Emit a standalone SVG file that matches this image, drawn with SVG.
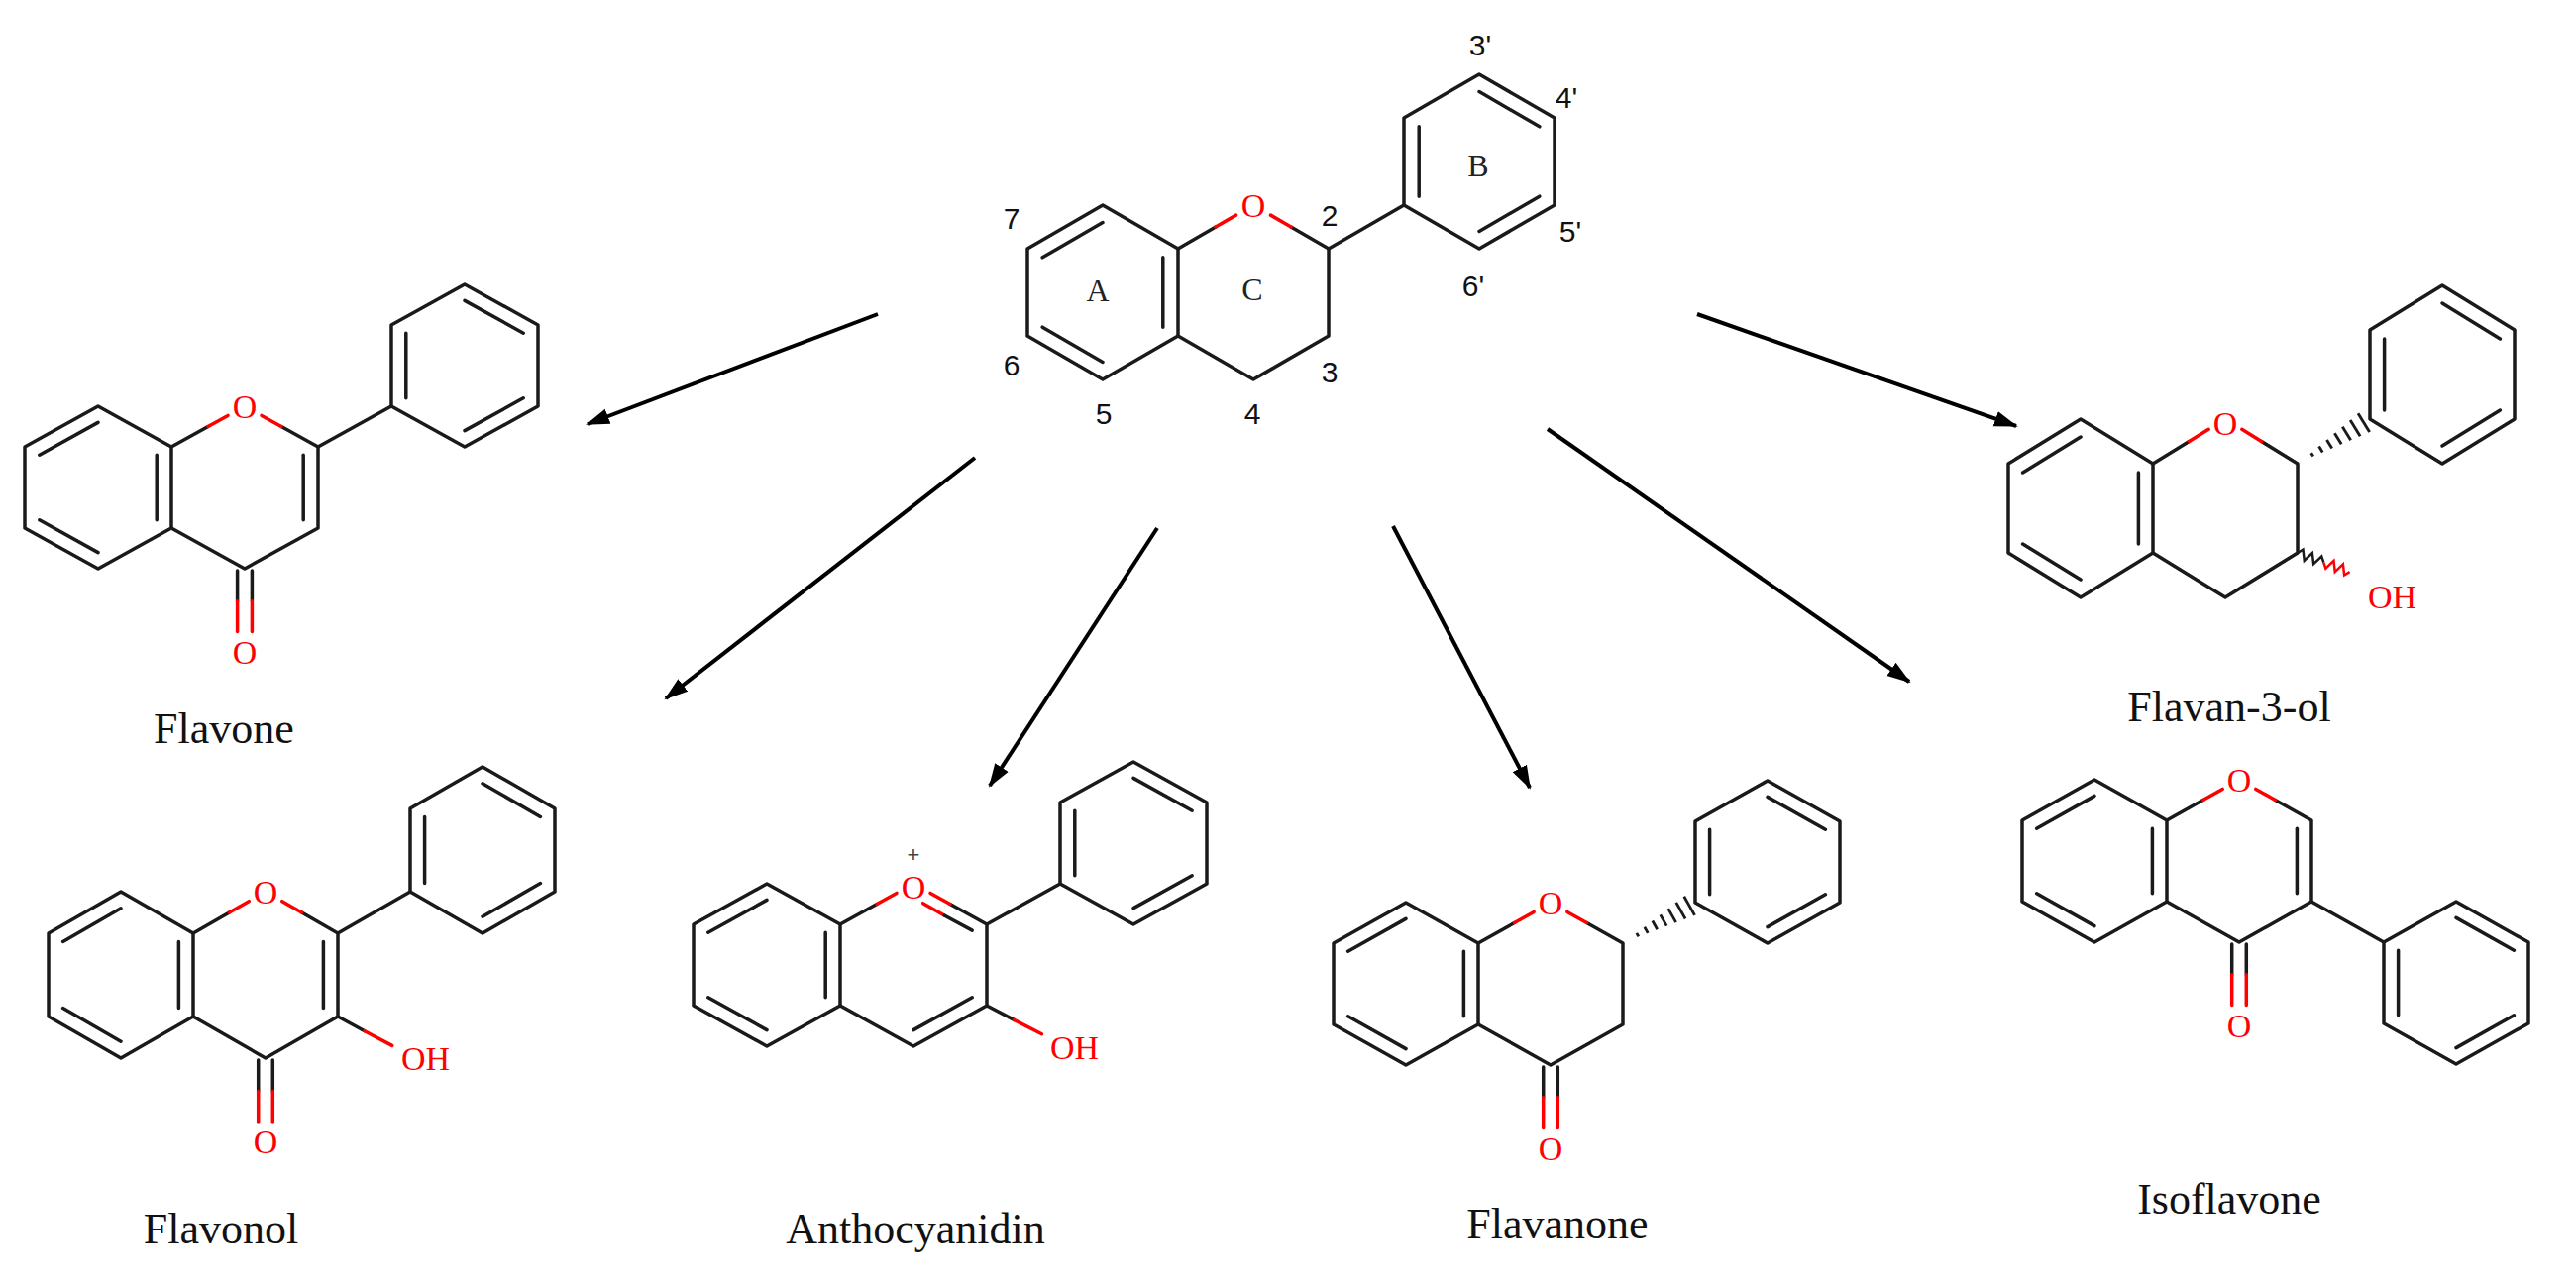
<svg xmlns="http://www.w3.org/2000/svg" width="2600" height="1296" viewBox="0 0 2600 1296">
<style>
.b{stroke:#1a1a1a;stroke-width:3.5;fill:none;vector-effect:non-scaling-stroke;stroke-linecap:round;stroke-linejoin:round}
.r{stroke:#ff0000;stroke-width:3.5;fill:none;vector-effect:non-scaling-stroke;stroke-linecap:round}
.ol{font-family:"Liberation Serif",serif;font-size:34px;fill:#ff0000;text-anchor:middle;dominant-baseline:central}
.oh{font-family:"Liberation Serif",serif;font-size:34px;fill:#ff0000}
.cap{font-family:"Liberation Serif",serif;font-size:44px;fill:#111;text-anchor:middle;dominant-baseline:central}
.num{font-family:"Liberation Sans",sans-serif;font-size:30px;fill:#111;text-anchor:middle;dominant-baseline:central}
.rl{font-family:"Liberation Serif",serif;font-size:32px;fill:#222;text-anchor:middle;dominant-baseline:central}
.arr{stroke:#000;stroke-width:4;fill:none}
.h{stroke:#1a1a1a;stroke-width:2.8}
</style>
<defs>
<marker id="ah" markerUnits="userSpaceOnUse" markerWidth="26" markerHeight="18" refX="22" refY="9" orient="auto">
<path d="M0,1 L24,9 L0,17 Z" fill="#000"/>
</marker>
<g id="hash">
<line class="h" x1="17" y1="-2" x2="17" y2="2"/>
<line class="h" x1="27" y1="-3.5" x2="27" y2="3.5"/>
<line class="h" x1="37" y1="-5" x2="37" y2="5"/>
<line class="h" x1="47" y1="-6.5" x2="47" y2="6.5"/>
<line class="h" x1="57" y1="-8" x2="57" y2="8"/>
<line class="h" x1="67" y1="-9.5" x2="67" y2="9.5"/>
<line class="h" x1="77" y1="-11" x2="77" y2="11"/>
</g>
</defs>

<g id="connectors">
<line class="arr" x1="886" y1="317" x2="593" y2="428" marker-end="url(#ah)"/>
<line class="arr" x1="984" y1="462" x2="672" y2="705" marker-end="url(#ah)"/>
<line class="arr" x1="1168" y1="533" x2="999" y2="793" marker-end="url(#ah)"/>
<line class="arr" x1="1406" y1="531" x2="1544" y2="795" marker-end="url(#ah)"/>
<line class="arr" x1="1562" y1="433" x2="1927" y2="688" marker-end="url(#ah)"/>
<line class="arr" x1="1713" y1="317" x2="2035" y2="430" marker-end="url(#ah)"/>
</g>

<g id="flavan">
<g transform="translate(1265,295) scale(76,44)">
<polygon class="b" points="-2,-2 -1,-1 -1,1 -2,2 -3,1 -3,-1"/>
<path class="b" d="M-2,-1.6 L-2.8,-0.8 M-2.8,0.8 L-2,1.6 M-1.2,-0.8 L-1.2,0.8"/>
<path class="b" d="M-1,-1 L-0.5,-1.5 M0.5,-1.5 L1,-1 L1,1 L0,2 L-1,1"/>
<path class="r" d="M-0.5,-1.5 L-0.23,-1.77 M0.23,-1.77 L0.5,-1.5"/>
<path class="b" d="M1,-1 L2,-2"/>
<polygon class="b" points="3,-5 4,-4 4,-2 3,-1 2,-2 2,-4"/>
<path class="b" d="M2.2,-3.8 L2.2,-2.2 M3,-4.6 L3.8,-3.8 M3.8,-2.2 L3,-1.4"/>
</g>
<text class="ol" x="1265" y="207">O</text>
<text class="num" x="1021" y="220">7</text>
<text class="num" x="1021" y="368">6</text>
<text class="num" x="1114" y="417">5</text>
<text class="num" x="1264" y="417">4</text>
<text class="num" x="1342" y="375">3</text>
<text class="num" x="1342" y="217">2</text>
<text class="rl" x="1108" y="293">A</text>
<text class="rl" x="1264" y="292">C</text>
<text class="rl" x="1492" y="167">B</text>
<text class="num" x="1494" y="45">3'</text>
<text class="num" x="1581" y="98">4'</text>
<text class="num" x="1585" y="233">5'</text>
<text class="num" x="1487" y="288">6'</text>
</g>

<g id="flavone">
<g transform="translate(247,492) scale(74,41)">
<polygon class="b" points="-2,-2 -1,-1 -1,1 -2,2 -3,1 -3,-1"/>
<path class="b" d="M-2,-1.6 L-2.8,-0.8 M-2.8,0.8 L-2,1.6 M-1.2,-0.8 L-1.2,0.8"/>
<path class="b" d="M-1,-1 L-0.5,-1.5 M0.5,-1.5 L1,-1 L1,1 L0,2 L-1,1"/>
<path class="r" d="M-0.5,-1.5 L-0.23,-1.77 M0.23,-1.77 L0.5,-1.5"/>
<path class="b" d="M0.8,-0.8 L0.8,0.8"/>
<path class="b" d="M-0.1,2.05 L-0.1,2.8 M0.1,2.05 L0.1,2.8"/>
<path class="r" d="M-0.1,2.8 L-0.1,3.55 M0.1,2.8 L0.1,3.55"/>
<path class="b" d="M1,-1 L2,-2"/>
<polygon class="b" points="3,-5 4,-4 4,-2 3,-1 2,-2 2,-4"/>
<path class="b" d="M2.2,-3.8 L2.2,-2.2 M3,-4.6 L3.8,-3.8 M3.8,-2.2 L3,-1.4"/>
</g>
<text class="ol" x="247" y="410">O</text>
<text class="ol" x="247" y="658">O</text>
<text class="cap" x="226" y="735">Flavone</text>
</g>

<g id="flavonol">
<g transform="translate(268,984) scale(73,42)">
<polygon class="b" points="-2,-2 -1,-1 -1,1 -2,2 -3,1 -3,-1"/>
<path class="b" d="M-2,-1.6 L-2.8,-0.8 M-2.8,0.8 L-2,1.6 M-1.2,-0.8 L-1.2,0.8"/>
<path class="b" d="M-1,-1 L-0.5,-1.5 M0.5,-1.5 L1,-1 L1,1 L0,2 L-1,1"/>
<path class="r" d="M-0.5,-1.5 L-0.23,-1.77 M0.23,-1.77 L0.5,-1.5"/>
<path class="b" d="M0.8,-0.8 L0.8,0.8"/>
<path class="b" d="M-0.1,2.05 L-0.1,2.8 M0.1,2.05 L0.1,2.8"/>
<path class="r" d="M-0.1,2.8 L-0.1,3.55 M0.1,2.8 L0.1,3.55"/>
<path class="b" d="M1,1 L1.37,1.35"/>
<path class="r" d="M1.37,1.35 L1.75,1.7"/>
<path class="b" d="M1,-1 L2,-2"/>
<polygon class="b" points="3,-5 4,-4 4,-2 3,-1 2,-2 2,-4"/>
<path class="b" d="M2.2,-3.8 L2.2,-2.2 M3,-4.6 L3.8,-3.8 M3.8,-2.2 L3,-1.4"/>
</g>
<text class="ol" x="268" y="900">O</text>
<text class="ol" x="268" y="1152">O</text>
<text class="oh" x="405" y="1080">OH</text>
<text class="cap" x="223" y="1240">Flavonol</text>
</g>

<g id="anthocyanidin">
<g transform="translate(922,974) scale(74,41)">
<polygon class="b" points="-2,-2 -1,-1 -1,1 -2,2 -3,1 -3,-1"/>
<path class="b" d="M-2,-1.6 L-2.8,-0.8 M-2.8,0.8 L-2,1.6 M-1.2,-0.8 L-1.2,0.8"/>
<path class="b" d="M-1,-1 L-0.5,-1.5 M0.5,-1.5 L1,-1 L1,1 L0,2 L-1,1"/>
<path class="r" d="M-0.5,-1.5 L-0.23,-1.77 M0.23,-1.77 L0.5,-1.5"/>
<path class="r" d="M0.13,-1.52 L0.42,-1.22"/>
<path class="b" d="M0.42,-1.22 L0.8,-0.85"/>
<path class="b" d="M0.8,0.8 L0,1.6"/>
<path class="b" d="M1,1 L1.37,1.35"/>
<path class="r" d="M1.37,1.35 L1.75,1.7"/>
<path class="b" d="M1,-1 L2,-2"/>
<polygon class="b" points="3,-5 4,-4 4,-2 3,-1 2,-2 2,-4"/>
<path class="b" d="M2.2,-3.8 L2.2,-2.2 M3,-4.6 L3.8,-3.8 M3.8,-2.2 L3,-1.4"/>
</g>
<text class="ol" x="922" y="895">O</text>
<text x="922" y="862" style="font-family:'Liberation Sans',sans-serif;font-size:22px;fill:#444;text-anchor:middle;dominant-baseline:central">+</text>
<text class="oh" x="1060" y="1069">OH</text>
<text class="cap" x="924" y="1240">Anthocyanidin</text>
</g>

<g id="flavanone">
<g transform="translate(1565,993) scale(73,41)">
<polygon class="b" points="-2,-2 -1,-1 -1,1 -2,2 -3,1 -3,-1"/>
<path class="b" d="M-2,-1.6 L-2.8,-0.8 M-2.8,0.8 L-2,1.6 M-1.2,-0.8 L-1.2,0.8"/>
<path class="b" d="M-1,-1 L-0.5,-1.5 M0.5,-1.5 L1,-1 L1,1 L0,2 L-1,1"/>
<path class="r" d="M-0.5,-1.5 L-0.23,-1.77 M0.23,-1.77 L0.5,-1.5"/>
<path class="b" d="M-0.1,2.05 L-0.1,2.8 M0.1,2.05 L0.1,2.8"/>
<path class="r" d="M-0.1,2.8 L-0.1,3.55 M0.1,2.8 L0.1,3.55"/>
<polygon class="b" points="3,-5 4,-4 4,-2 3,-1 2,-2 2,-4"/>
<path class="b" d="M2.2,-3.8 L2.2,-2.2 M3,-4.6 L3.8,-3.8 M3.8,-2.2 L3,-1.4"/>
</g>
<use href="#hash" transform="translate(1638,952) rotate(-29.3)"/>
<text class="ol" x="1565" y="911">O</text>
<text class="ol" x="1565" y="1159">O</text>
<text class="cap" x="1572" y="1235">Flavanone</text>
</g>

<g id="isoflavone">
<g transform="translate(2260,869) scale(73,41)">
<polygon class="b" points="-2,-2 -1,-1 -1,1 -2,2 -3,1 -3,-1"/>
<path class="b" d="M-2,-1.6 L-2.8,-0.8 M-2.8,0.8 L-2,1.6 M-1.2,-0.8 L-1.2,0.8"/>
<path class="b" d="M-1,-1 L-0.5,-1.5 M0.5,-1.5 L1,-1 L1,1 L0,2 L-1,1"/>
<path class="r" d="M-0.5,-1.5 L-0.23,-1.77 M0.23,-1.77 L0.5,-1.5"/>
<path class="b" d="M0.8,-0.8 L0.8,0.8"/>
<path class="b" d="M-0.1,2.05 L-0.1,2.8 M0.1,2.05 L0.1,2.8"/>
<path class="r" d="M-0.1,2.8 L-0.1,3.55 M0.1,2.8 L0.1,3.55"/>
<path class="b" d="M1,1 L2,2"/>
<polygon class="b" points="3,1 4,2 4,4 3,5 2,4 2,2"/>
<path class="b" d="M2.2,2.2 L2.2,3.8 M3,1.4 L3.8,2.2 M3.8,3.8 L3,4.6"/>
</g>
<text class="ol" x="2260" y="787">O</text>
<text class="ol" x="2260" y="1035">O</text>
<text class="cap" x="2250" y="1210">Isoflavone</text>
</g>

<g id="flavan-3-ol">
<g transform="translate(2246,513) scale(73,45)">
<polygon class="b" points="-2,-2 -1,-1 -1,1 -2,2 -3,1 -3,-1"/>
<path class="b" d="M-2,-1.6 L-2.8,-0.8 M-2.8,0.8 L-2,1.6 M-1.2,-0.8 L-1.2,0.8"/>
<path class="b" d="M-1,-1 L-0.5,-1.5 M0.5,-1.5 L1,-1 L1,1 L0,2 L-1,1"/>
<path class="r" d="M-0.5,-1.5 L-0.23,-1.77 M0.23,-1.77 L0.5,-1.5"/>
<polygon class="b" points="3,-5 4,-4 4,-2 3,-1 2,-2 2,-4"/>
<path class="b" d="M2.2,-3.8 L2.2,-2.2 M3,-4.6 L3.8,-3.8 M3.8,-2.2 L3,-1.4"/>
</g>
<use href="#hash" transform="translate(2319,468) rotate(-31.7) scale(1.02,1)"/>
<g transform="translate(2319,558) rotate(20)">
<path d="M0,0 L4,-5 L9,5 L14,-5 L19,5 L24,-5 L28,0" stroke="#1a1a1a" stroke-width="2.5" fill="none"/>
<path d="M28,0 L32,5 L37,-5 L42,5 L47,-5 L52,5 L56,0" stroke="#ff0000" stroke-width="2.5" fill="none"/>
</g>
<text class="ol" x="2246" y="427">O</text>
<text class="oh" x="2390" y="614">OH</text>
<text class="cap" x="2250" y="713">Flavan-3-ol</text>
</g>
</svg>
